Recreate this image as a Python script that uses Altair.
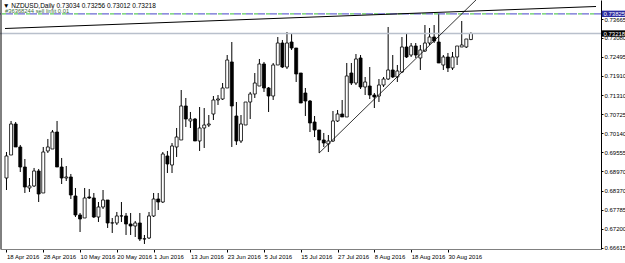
import json
import pandas as pd
import altair as alt

# ---------------- data ----------------
opens = [0.68763,0.69472,0.70428,0.69719,0.69102,0.68455,0.68517,0.68979,0.68301,0.69596,
0.69657,0.70181,0.69102,0.68763,0.68794,0.68208,0.67623,0.67530,0.68178,0.68147,
0.67561,0.67869,0.68085,0.67376,0.67376,0.67592,0.67592,0.67345,0.67283,0.67376,
0.66883,0.66914,0.67592,0.68116,0.68023,0.69442,0.69164,0.69719,0.69935,0.70983,
0.70521,0.70582,0.69904,0.70305,0.70397,0.70736,0.71168,0.71199,0.71538,0.72340,
0.70675,0.69904,0.70397,0.71106,0.71353,0.71599,0.72278,0.71538,0.71291,0.72247,
0.72925,0.72185,0.72956,0.72771,0.72000,0.71384,0.71137,0.70490,0.70243,0.69935,
0.69812,0.69904,0.70521,0.70736,0.70644,0.72000,0.71692,0.72463,0.71569,0.71599,
0.71322,0.71291,0.71630,0.71815,0.72093,0.71877,0.72031,0.72802,0.72555,0.72833,
0.72463,0.72679,0.72925,0.73110,0.72956,0.72247,0.72494,0.72155,0.72494,0.72802,
0.72802,0.73034]

highs = [0.69565,0.70521,0.70490,0.69781,0.69349,0.68763,0.69072,0.69041,0.69719,0.69966,
0.70243,0.70521,0.69380,0.69133,0.68887,0.68455,0.67684,0.68455,0.68424,0.68301,
0.68023,0.68393,0.68085,0.67530,0.67715,0.68023,0.67684,0.67684,0.67438,0.67684,
0.67006,0.67715,0.68301,0.68301,0.69565,0.69596,0.69842,0.70305,0.71476,0.71230,
0.70798,0.70613,0.70952,0.70921,0.70705,0.71291,0.71322,0.71692,0.72555,0.72956,
0.71106,0.70705,0.71106,0.71415,0.72000,0.72432,0.72340,0.71569,0.72309,0.73110,
0.73018,0.73264,0.73203,0.72771,0.72000,0.71538,0.71168,0.70675,0.70243,0.70151,
0.70089,0.70829,0.70860,0.71168,0.72309,0.72309,0.72586,0.72555,0.71877,0.72185,
0.71384,0.71815,0.71877,0.73419,0.72555,0.72247,0.73110,0.73234,0.72925,0.72925,
0.72864,0.73480,0.73388,0.73480,0.73830,0.72555,0.72617,0.72648,0.72710,0.73604,
0.73049,0.73256]

lows = [0.68393,0.69472,0.69719,0.68948,0.68301,0.68332,0.68486,0.68023,0.68301,0.69534,
0.69657,0.69102,0.68578,0.68671,0.68116,0.67561,0.67098,0.67530,0.68116,0.67530,
0.67407,0.67808,0.67222,0.67068,0.67314,0.67407,0.67006,0.67006,0.66944,0.66821,
0.66729,0.66883,0.67561,0.67777,0.67992,0.68917,0.68917,0.69411,0.69935,0.70336,
0.70305,0.69904,0.69596,0.69688,0.70336,0.70551,0.71014,0.71168,0.71538,0.69719,
0.69781,0.69842,0.70397,0.70582,0.71230,0.71599,0.71415,0.70798,0.71168,0.72247,
0.72155,0.72124,0.72710,0.71723,0.71075,0.70675,0.70181,0.70027,0.69534,0.69719,
0.69565,0.69873,0.70490,0.70644,0.70644,0.71630,0.71630,0.71507,0.71322,0.71199,
0.70921,0.71106,0.71569,0.71785,0.71846,0.71723,0.72000,0.72463,0.72494,0.72463,
0.72093,0.72648,0.72864,0.72925,0.72309,0.72093,0.72031,0.72093,0.72247,0.72802,
0.72771,0.73012]

closes = [0.69442,0.70428,0.69719,0.69102,0.68486,0.68517,0.68979,0.68270,0.69565,0.69719,
0.70181,0.69102,0.68763,0.68794,0.68239,0.67623,0.67499,0.68147,0.68147,0.67561,
0.67869,0.68085,0.67376,0.67380,0.67592,0.67595,0.67345,0.67283,0.67376,0.66883,
0.66890,0.67592,0.68116,0.68023,0.69503,0.69195,0.69750,0.70027,0.70983,0.70582,
0.70582,0.69904,0.70305,0.70397,0.70428,0.71168,0.71199,0.71538,0.72401,0.70983,
0.69904,0.70428,0.71106,0.71353,0.71692,0.72278,0.71538,0.71291,0.72247,0.72925,
0.72185,0.72925,0.72771,0.71970,0.71075,0.71137,0.70459,0.70243,0.69935,0.69842,
0.69904,0.70521,0.70736,0.70644,0.71908,0.71692,0.72432,0.71569,0.71723,0.71322,
0.71260,0.71630,0.71815,0.72093,0.71877,0.72062,0.72802,0.72494,0.72833,0.72555,
0.72710,0.72925,0.73110,0.72987,0.72309,0.72494,0.72155,0.72494,0.72833,0.72864,
0.73049,0.73218]

date_label_bars = [0, 8, 16, 24, 32, 40, 48, 56, 64, 72, 80, 88, 96]
date_labels = ["18 Apr 2016", "28 Apr 2016", "10 May 2016", "20 May 2016", "1 Jun 2016",
               "13 Jun 2016", "23 Jun 2016", "5 Jul 2016", "15 Jul 2016", "27 Jul 2016",
               "8 Aug 2016", "18 Aug 2016", "30 Aug 2016"]

price_ticks = [0.73665, 0.73080, 0.72495, 0.71910, 0.71310, 0.70725, 0.70140,
               0.69555, 0.68970, 0.68370, 0.67785, 0.67200, 0.66615]

sell_limit_price = [0.73825]
bid_price = [0.73218]

header_text = ["\u25bc NZDUSD,Daily  0.73034 0.73256 0.73012 0.73218"]
order_text = ["#36368244 sell limit 0.01"]

resist_bar = [-0.32, 128.2]
resist_price = [0.73372, 0.74051]
support_bar = [68, 104]
support_price = [0.69534, 0.74515]

# ---------------- chart ----------------
FONT = "Liberation Sans"
W, H = 601, 249

df = pd.DataFrame({"bar": list(range(len(opens))), "open": opens, "high": highs,
                   "low": lows, "close": closes})

xscale = alt.Scale(domain=[-0.32, 128.2], nice=False, zero=False)
yscale = alt.Scale(domain=[0.66574, 0.74251], nice=False, zero=False)

label_map = json.dumps({str(b): l for b, l in zip(date_label_bars, date_labels)})
xaxis = alt.Axis(values=date_label_bars, labelExpr=f"{label_map}[toString(datum.value)]",
                 title=None, grid=False, orient="bottom", labelAlign="left", labelBaseline="top",
                 labelFont=FONT, labelFontSize=6, labelColor="black", labelPadding=1,
                 labelOffset=0, labelFlush=False, labelOverlap=False, labelBound=False,
                 tickSize=3, tickColor="black", domainColor="#808080", domainWidth=1)
yaxis = alt.Axis(values=price_ticks, format=".5f", title=None, grid=False, orient="right",
                 labelFont=FONT, labelFontSize=6, labelColor="black", labelPadding=1,
                 labelFlush=False, labelOverlap=False, labelBound=False,
                 tickSize=2, tickColor="black", domainColor="black", domainWidth=1)


def X(field):
    return alt.X(field, scale=xscale, axis=xaxis)


def Y(field):
    return alt.Y(field, scale=yscale, axis=yaxis)


base = alt.Chart(df).encode(x=X("bar:Q"))

wicks = base.mark_rule(color="black", strokeWidth=1).encode(y=Y("low:Q"), y2="high:Q")

bodies = base.mark_bar(size=3, stroke="black", strokeWidth=0.8).encode(
    y=Y("open:Q"), y2="close:Q",
    fill=alt.condition("datum.close >= datum.open", alt.value("white"), alt.value("black")))

bid_df = pd.DataFrame({"p": bid_price})
bid_line = alt.Chart(bid_df).mark_rule(color="#b9c0cc", strokeWidth=1.3).encode(y=Y("p:Q"))

sl_df = pd.DataFrame({"p": sell_limit_price})
sl_blue = alt.Chart(sl_df).mark_rule(color="#6a6ad2", strokeWidth=1.2, strokeDash=[7, 5]).encode(
    y=Y("p:Q"))
sl_green = alt.Chart(sl_df).mark_rule(color="#5ccc5c", strokeWidth=1.2, strokeDash=[4, 8],
                                      strokeDashOffset=-7).encode(y=Y("p:Q"))

res_df = pd.DataFrame({"bar": resist_bar, "price": resist_price})
res_line = alt.Chart(res_df).mark_line(color="black", strokeWidth=1, clip=True).encode(
    x=X("bar:Q"), y=Y("price:Q"))

sup_df = pd.DataFrame({"bar": support_bar, "price": support_price})
sup_line = alt.Chart(sup_df).mark_line(color="black", strokeWidth=0.8, clip=True).encode(
    x=X("bar:Q"), y=Y("price:Q"))

left_border = alt.Chart(pd.DataFrame({"v": [0]})).mark_rule(color="black", strokeWidth=1).encode(
    x=alt.value(1), y=alt.value(0), y2=alt.value(H))

header = alt.Chart(pd.DataFrame({"t": header_text})).mark_text(
    align="left", baseline="middle", font=FONT, fontSize=6.5, color="black").encode(
    x=alt.value(3), y=alt.value(5.8), text="t:N")

order = alt.Chart(pd.DataFrame({"t": order_text})).mark_text(
    align="left", baseline="middle", font=FONT, fontSize=5.8, color="#3d6e3d").encode(
    x=alt.value(5), y=alt.value(11), text="t:N")

box_shape = "M-1,-0.27H1V0.27H-1Z"
sl_box = alt.Chart(sl_df).mark_point(shape=box_shape, filled=True, size=552, opacity=1,
                                     color="#2c2ca0", strokeWidth=0).encode(
    x=alt.value(613.5), y=Y("p:Q"))
sl_lab = alt.Chart(sl_df).mark_text(align="left", baseline="middle", font=FONT, fontSize=6,
                                    color="white").encode(
    x=alt.value(603.5), y=Y("p:Q"), text=alt.Text("p:Q", format=".5f"))

bid_box = alt.Chart(bid_df).mark_point(shape=box_shape, filled=True, size=552, opacity=1,
                                       color="black", strokeWidth=0).encode(
    x=alt.value(613.5), y=Y("p:Q"))
bid_lab = alt.Chart(bid_df).mark_text(align="left", baseline="middle", font=FONT, fontSize=6,
                                      color="white").encode(
    x=alt.value(603.5), y=Y("p:Q"), text=alt.Text("p:Q", format=".5f"))

chart = alt.layer(
    wicks, bodies, bid_line, sl_blue, sl_green, res_line, sup_line, left_border,
    header, order, sl_box, sl_lab, bid_box, bid_lab
).properties(
    width=W, height=H,
    autosize=alt.AutoSizeParams(type="none"),
    padding={"left": 0, "top": 0, "right": 24, "bottom": 14},
    background="white",
).configure_view(stroke=None)

chart.save("out.html", embed_options={"renderer": "svg", "actions": False})
